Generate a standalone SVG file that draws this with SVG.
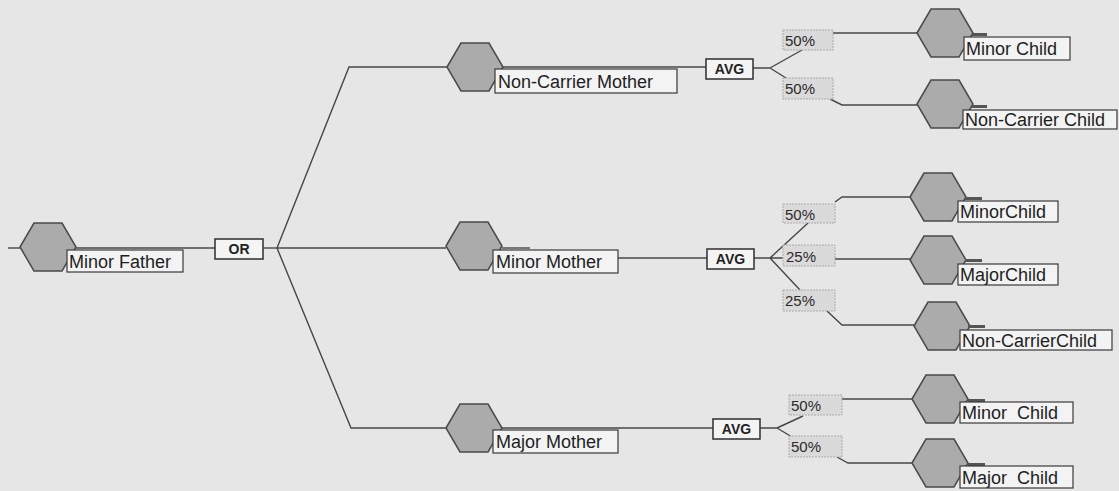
<svg xmlns="http://www.w3.org/2000/svg" width="1119" height="491" viewBox="0 0 1119 491">
<style>
.bg{fill:#e6e6e6}
.ln{fill:none;stroke:#474747;stroke-width:1.4}
.hex{fill:#ababab;stroke:#4a4a4a;stroke-width:1.5}
.lbl{fill:#f3f3f3;stroke:#3a3a3a;stroke-width:1.2}
.lt{font-family:"Liberation Sans",Arial,sans-serif;font-size:18px;fill:#1e1e1e;white-space:pre}
.op{fill:#f4f4f4;stroke:#3a3a3a;stroke-width:1.6}
.ot{font-family:"Liberation Sans",Arial,sans-serif;font-size:14px;font-weight:bold;fill:#222;text-anchor:middle}
.pb{fill:#dadada;stroke:#aaaaaa;stroke-width:1;stroke-dasharray:2 1}
.pt{font-family:"Liberation Sans",Arial,sans-serif;font-size:15px;fill:#2a2a2a}
.tab{fill:#555}
</style>
<defs>
<polygon id="hx" points="-28,0 -14,-24 14,-24 28,0 14,24 -14,24"/>
</defs>
<rect class="bg" x="0" y="0" width="1119" height="491"/>

<g id="connectors">
<path class="ln" d="M8,248 H20"/>
<path class="ln" d="M76,248 H215"/>
<path class="ln" d="M263,248 H277"/>
<path class="ln" d="M277,248 L349,67 H447"/>
<path class="ln" d="M277,248 H446"/>
<path class="ln" d="M277,248 L351,428 H446"/>
<path class="ln" d="M503,67 H706"/>
<path class="ln" d="M753,68 H770 M770,68 L802,50 M770,68 L786,78"/>
<path class="ln" d="M833,33 H917"/>
<path class="ln" d="M830,99 L842,105 H917"/>
<path class="ln" d="M502,248 H530"/>
<path class="ln" d="M618,258 H707"/>
<path class="ln" d="M754,258 H770 M770,258 L808,223 M770,258 H783 M770,258 L800,290"/>
<path class="ln" d="M835,202 L842,197 H910"/>
<path class="ln" d="M835,259 H910"/>
<path class="ln" d="M827,311 L842,325 H914"/>
<path class="ln" d="M502,428 H713"/>
<path class="ln" d="M760,428 H777 M777,428 L803,416 M777,428 L792,437"/>
<path class="ln" d="M842,399 H912"/>
<path class="ln" d="M837,457 L848,463 H912"/>
</g>

<g id="edge-labels">
<rect class="pb" x="783" y="30" width="50" height="20"/><text class="pt" x="785" y="46">50%</text>
<rect class="pb" x="783" y="78" width="50" height="21"/><text class="pt" x="785" y="94">50%</text>
<rect class="pb" x="783" y="204" width="52" height="19"/><text class="pt" x="785" y="220">50%</text>
<rect class="pb" x="783" y="245" width="52" height="21"/><text class="pt" x="786" y="262">25%</text>
<rect class="pb" x="783" y="290" width="52" height="21"/><text class="pt" x="785" y="306">25%</text>
<rect class="pb" x="789" y="395" width="53" height="20"/><text class="pt" x="791" y="411">50%</text>
<rect class="pb" x="789" y="436" width="53" height="21"/><text class="pt" x="791" y="452">50%</text>
</g>

<g id="minor-father">
<use href="#hx" class="hex" x="48" y="247"/>
<rect class="lbl" x="67" y="250" width="116" height="22"/>
<text class="lt" x="69" y="268">Minor Father</text>
</g>

<g id="or">
<rect class="op" x="215" y="239" width="48" height="20"/>
<text class="ot" x="239" y="254">OR</text>
</g>

<g id="non-carrier-mother">
<use href="#hx" class="hex" x="475" y="67"/>
<rect class="lbl" x="495" y="69" width="182" height="24"/>
<text class="lt" x="498" y="88">Non-Carrier Mother</text>
</g>

<g id="minor-mother">
<use href="#hx" class="hex" x="474" y="246"/>
<rect class="lbl" x="493" y="250" width="125" height="23"/>
<text class="lt" x="496" y="268">Minor Mother</text>
</g>

<g id="major-mother">
<use href="#hx" class="hex" x="474" y="428"/>
<rect class="lbl" x="493" y="430" width="125" height="23"/>
<text class="lt" x="496" y="448">Major Mother</text>
</g>

<g id="avg-1">
<rect class="op" x="706" y="59" width="47" height="20"/>
<text class="ot" x="729.5" y="74">AVG</text>
</g>
<g id="avg-2">
<rect class="op" x="707" y="249" width="47" height="20"/>
<text class="ot" x="730.5" y="264">AVG</text>
</g>
<g id="avg-3">
<rect class="op" x="713" y="419" width="47" height="20"/>
<text class="ot" x="736.5" y="434">AVG</text>
</g>

<g id="minor-child-1">
<use href="#hx" class="hex" x="945" y="33"/>
<rect class="tab" x="972" y="33" width="15" height="3"/>
<rect class="lbl" x="964" y="37" width="106" height="23"/>
<text class="lt" x="966" y="55">Minor Child</text>
</g>

<g id="non-carrier-child-1">
<use href="#hx" class="hex" x="945" y="104"/>
<rect class="tab" x="971" y="105" width="16" height="3"/>
<rect class="lbl" x="963" y="110" width="154" height="19"/>
<text class="lt" x="965" y="126">Non-Carrier Child</text>
</g>

<g id="minor-child-2">
<use href="#hx" class="hex" x="938" y="197"/>
<rect class="tab" x="965" y="197" width="17" height="3"/>
<rect class="lbl" x="958" y="201" width="100" height="21"/>
<text class="lt" x="960" y="218">MinorChild</text>
</g>

<g id="major-child-2">
<use href="#hx" class="hex" x="938" y="260"/>
<rect class="tab" x="965" y="259" width="17" height="3"/>
<rect class="lbl" x="958" y="264" width="100" height="21"/>
<text class="lt" x="960" y="281">MajorChild</text>
</g>

<g id="non-carrier-child-2">
<use href="#hx" class="hex" x="942" y="326"/>
<rect class="tab" x="968" y="325" width="17" height="3"/>
<rect class="lbl" x="960" y="330" width="152" height="20"/>
<text class="lt" x="962" y="347">Non-CarrierChild</text>
</g>

<g id="minor-child-3">
<use href="#hx" class="hex" x="940" y="399"/>
<rect class="tab" x="968" y="399" width="17" height="3"/>
<rect class="lbl" x="960" y="402" width="113" height="21"/>
<text class="lt" x="962" y="419">Minor  Child</text>
</g>

<g id="major-child-3">
<use href="#hx" class="hex" x="940" y="463"/>
<rect class="tab" x="968" y="463" width="17" height="3"/>
<rect class="lbl" x="960" y="466" width="113" height="22"/>
<text class="lt" x="962" y="484">Major  Child</text>
</g>
</svg>
